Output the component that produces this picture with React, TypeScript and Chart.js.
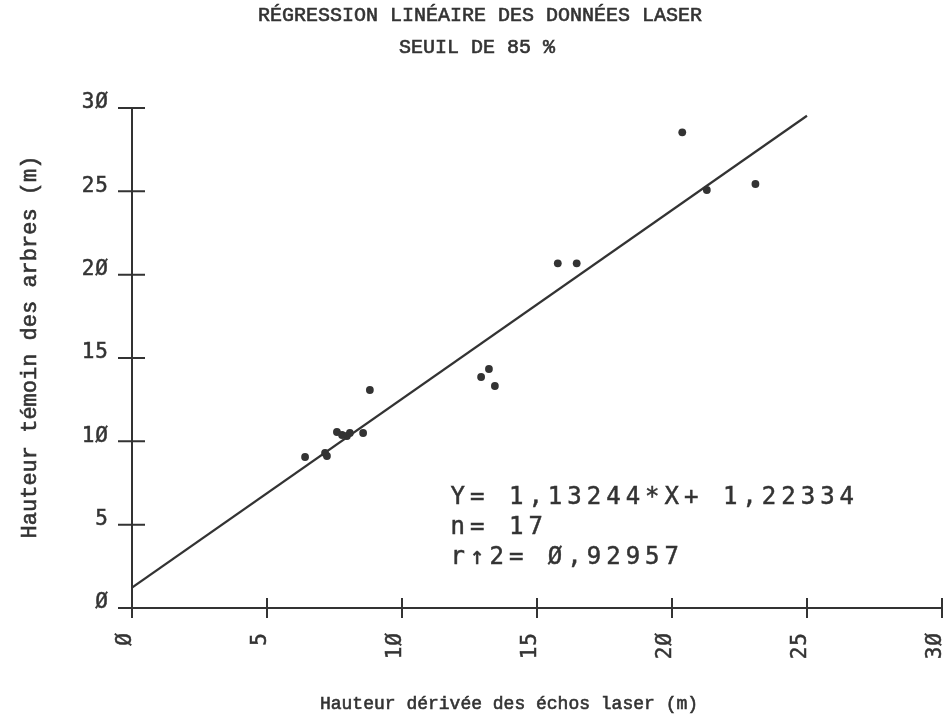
import React, { useEffect, useRef } from "react";
import { Chart, registerables } from "chart.js";

Chart.register(...registerables);

// Laser-derived height (x) vs. measured tree height (y), metres
const laserHeights = [
  6.41, 7.15, 7.22, 7.59, 7.78, 7.96, 8.07, 8.56, 8.81,
  12.93, 13.22, 13.44, 15.77, 16.47, 20.38, 21.29, 23.09,
];
const treeHeights = [
  9.06, 9.3, 9.12, 10.56, 10.38, 10.32, 10.5, 10.5, 13.08,
  13.86, 14.34, 13.32, 20.68, 20.68, 28.54, 25.08, 25.44,
];

// Fitted regression: Y = slope * X + intercept
const slope = 1.13244;
const intercept = 1.22334;
const fitRange = [0, 25];

const xTickValues = [0, 5, 10, 15, 20, 25, 30];
const yTickValues = [0, 5, 10, 15, 20, 25, 30];

const titleLines = ["RÉGRESSION LINÉAIRE DES DONNÉES LASER", "SEUIL DE 85 %"];
const xAxisTitle = "Hauteur dérivée des échos laser (m)";
const yAxisTitle = "Hauteur témoin des arbres (m)";
const statsLines = ["Y= 1,13244*X+ 1,22334", "n= 17", "r↑2= Ø,92957"];

const INK = "#333333";
const plotterDigits = (v: number) => String(v).replace(/0/g, "Ø");

// typewriter text: fill plus a thin stroke for a heavier ink look
function typeText(ctx: CanvasRenderingContext2D, text: string, x: number, y: number) {
  ctx.fillText(text, x, y);
  ctx.strokeText(text, x, y);
}

const plotterAxes = {
  id: "plotterAxes",
  beforeDatasetsDraw(chart: any) {
    const { ctx } = chart;
    const xs = chart.scales.x;
    const ys = chart.scales.y;
    const x0 = xs.getPixelForValue(0);
    const y0 = ys.getPixelForValue(0);
    ctx.save();
    ctx.strokeStyle = INK;
    ctx.lineWidth = 2;
    // axis lines
    ctx.beginPath();
    ctx.moveTo(x0 - 14, y0);
    ctx.lineTo(xs.getPixelForValue(30), y0);
    ctx.moveTo(x0, ys.getPixelForValue(30));
    ctx.lineTo(x0, y0 + 10);
    ctx.stroke();
    // crossing tick marks
    ctx.beginPath();
    for (const v of xTickValues) {
      const px = xs.getPixelForValue(v);
      ctx.moveTo(px, y0 - 10);
      ctx.lineTo(px, y0 + 10);
    }
    for (const v of yTickValues) {
      const py = ys.getPixelForValue(v);
      ctx.moveTo(x0 - 14, py);
      ctx.lineTo(x0 + 13, py);
    }
    ctx.stroke();
    ctx.restore();
  },
  afterDraw(chart: any) {
    const { ctx } = chart;
    const xs = chart.scales.x;
    const ys = chart.scales.y;
    const x0 = xs.getPixelForValue(0);
    const y0 = ys.getPixelForValue(0);
    ctx.save();
    ctx.fillStyle = INK;
    ctx.strokeStyle = INK;

    // tick labels
    ctx.font = "21px 'DejaVu Sans Mono'";
    (ctx as any).letterSpacing = "1px";
    ctx.lineWidth = 0.5;
    ctx.textAlign = "right";
    ctx.textBaseline = "middle";
    for (const v of yTickValues) {
      typeText(ctx, plotterDigits(v), x0 - 23, ys.getPixelForValue(v) - 5);
    }
    for (const v of xTickValues) {
      ctx.save();
      ctx.translate(xs.getPixelForValue(v) - 6, y0 + 24);
      ctx.rotate(-Math.PI / 2);
      typeText(ctx, plotterDigits(v), 0, 0);
      ctx.restore();
    }

    // regression statistics
    ctx.font = "24px 'DejaVu Sans Mono'";
    (ctx as any).letterSpacing = "5px";
    ctx.textAlign = "left";
    statsLines.forEach((line, i) => {
      typeText(ctx, line, xs.getPixelForValue(11.8), ys.getPixelForValue(6.6) + i * 30);
    });

    // titles
    (ctx as any).letterSpacing = "0px";
    ctx.lineWidth = 0.6;
    ctx.font = "20px 'Liberation Mono'";
    ctx.textAlign = "center";
    typeText(ctx, titleLines[0], 480, 16);
    typeText(ctx, titleLines[1], 477, 48);

    ctx.font = "18px 'Liberation Mono'";
    typeText(ctx, xAxisTitle, 509, 704);

    ctx.save();
    ctx.translate(30, 347);
    ctx.rotate(-Math.PI / 2);
    ctx.font = "22px 'Liberation Mono'";
    typeText(ctx, yAxisTitle, 0, 0);
    ctx.restore();

    ctx.restore();
  },
};

export default function App() {
  const canvasRef = useRef<HTMLCanvasElement | null>(null);

  useEffect(() => {
    const canvas = canvasRef.current;
    if (!canvas) return;
    const points = laserHeights.map((x, i) => ({ x, y: treeHeights[i] }));
    const fitLine = fitRange.map((x) => ({ x, y: slope * x + intercept }));

    const chart = new Chart(canvas, {
      type: "scatter",
      data: {
        datasets: [
          {
            label: "Régression",
            data: fitLine,
            showLine: true,
            borderColor: INK,
            borderWidth: 2.2,
            pointRadius: 0,
            fill: false,
          } as any,
          {
            label: "Arbres",
            data: points,
            backgroundColor: INK,
            borderColor: INK,
            borderWidth: 0,
            pointRadius: 3.9,
          },
        ],
      },
      options: {
        animation: false,
        responsive: false,
        layout: { padding: { left: 132, top: 108, right: 8, bottom: 113 } },
        plugins: {
          legend: { display: false },
          title: { display: false },
          tooltip: { enabled: false },
        },
        scales: {
          x: { type: "linear", min: 0, max: 30, display: false },
          y: { type: "linear", min: 0, max: 30, display: false },
        },
      },
      plugins: [plotterAxes],
    });
    return () => chart.destroy();
  }, []);

  return (
    <div style={{ position: "absolute", left: 0, top: 0, width: 950, height: 721, background: "#fff" }}>
      <canvas ref={canvasRef} width={950} height={721} />
    </div>
  );
}
